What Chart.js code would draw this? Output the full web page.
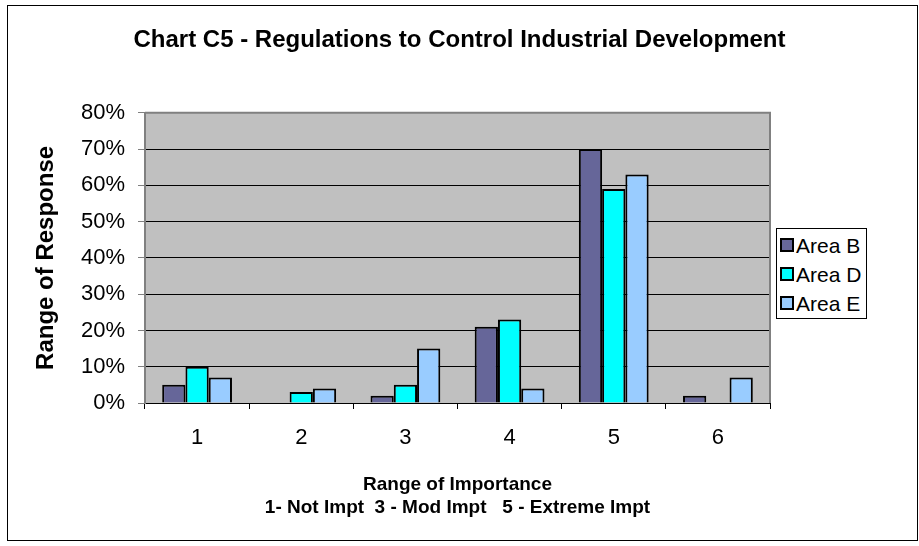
<!DOCTYPE html>
<html>
<head>
<meta charset="utf-8">
<script src="https://cdn.jsdelivr.net/npm/chart.js@4"></script>
<style>
  html, body { margin: 0; padding: 0; background: #fff; }
  #wrap { position: relative; width: 919px; height: 546px; }
  #legend {
    position: absolute; left: 776px; top: 228px; width: 89px; height: 89px;
    border: 1px solid #000; background: #fff;
    font-family: "Liberation Sans", Arial, sans-serif; font-size: 21px; color: #000;
  }
  #legend .item { position: absolute; left: 3px; height: 24px; line-height: 24px; white-space: nowrap; }
  #legend .box {
    display: inline-block; width: 10px; height: 10px; border: 2px solid #000;
    vertical-align: middle; margin-right: 2px; position: relative; top: -2px;
  }
</style>
</head>
<body>
<div id="wrap">
  <canvas id="chart" width="919" height="546"></canvas>
  <div id="legend"></div>
</div>
<script>
const categories = ["1", "2", "3", "4", "5", "6"];
const areaB = [5, 0, 2, 21, 70, 2];
const areaD = [10, 3, 5, 23, 59, 0];
const areaE = [7, 4, 15, 4, 63, 7];
const seriesNames = ["Area B", "Area D", "Area E"];
const seriesColors = ["#666699", "#00ffff", "#99ccff"];

const FONT = "'Liberation Sans', Arial, sans-serif";

// grey plot background + frame, outer chart border
const frame = {
  id: "frame",
  beforeDraw(chart) {
    const { ctx, chartArea: a } = chart;
    ctx.save();
    ctx.fillStyle = "#c0c0c0";
    ctx.fillRect(a.left, a.top, a.right - a.left, a.bottom - a.top);
    ctx.restore();
  },
  afterDraw(chart) {
    const { ctx, chartArea: a } = chart;
    ctx.save();
    ctx.strokeStyle = "#808080";
    ctx.lineWidth = 2;
    ctx.beginPath();
    ctx.moveTo(a.left, a.top);
    ctx.lineTo(a.right, a.top);
    ctx.lineTo(a.right, a.bottom);
    ctx.stroke();
    ctx.strokeStyle = "#000";
    ctx.lineWidth = 1;
    ctx.strokeRect(7.5, 5.5, 910, 535);
    ctx.restore();
  },
};

const values = [areaB, areaD, areaE];

new Chart(document.getElementById("chart"), {
  type: "bar",
  data: {
    labels: categories,
    datasets: seriesNames.map((name, i) => ({
      label: name,
      data: values[i].map((v) => v / 100), // percent -> fraction
      backgroundColor: seriesColors[i],
      borderColor: "#000",
      borderWidth: 2,
      borderSkipped: "start",
      categoryPercentage: 0.67,
      barPercentage: 1.0,
    })),
  },
  options: {
    responsive: false,
    animation: false,
    layout: { padding: 0 },
    plugins: {
      legend: { display: false },
      tooltip: { enabled: false },
      title: {
        display: true,
        text: "Chart C5 - Regulations to Control Industrial Development",
        color: "#000",
        font: { family: FONT, size: 24, weight: "bold", lineHeight: 1.2 },
        padding: { top: 26, bottom: 58 },
        fullSize: true,
      },
    },
    scales: {
      x: {
        grid: { display: true, drawOnChartArea: false, drawTicks: true, tickLength: 6, color: "#000", offset: true },
        border: { color: "#000", width: 1 },
        ticks: { color: "#000", font: { family: FONT, size: 22 }, padding: 16 },
        title: {
          display: true,
          text: ["Range of Importance", "1- Not Impt  3 - Mod Impt   5 - Extreme Impt"],
          color: "#000",
          font: { family: FONT, size: 19, weight: "bold", lineHeight: 1.2 },
          padding: { top: 0, bottom: 27 },
        },
        afterFit(scale) { scale.height = 143; },
      },
      y: {
        min: 0,
        max: 0.8,
        grid: { color: "#000", lineWidth: 1, tickColor: "#808080", tickLength: 7 },
        border: { color: "#808080", width: 2 },
        ticks: {
          stepSize: 0.1,
          color: "#000",
          padding: 13,
          font: { family: FONT, size: 22 },
          callback: (v) => Math.round(v * 100) + "%",
        },
        title: {
          display: true,
          text: "Range of Response",
          color: "#000",
          font: { family: FONT, size: 24, weight: "bold", lineHeight: 1.2 },
          padding: { top: 32, bottom: 0 },
        },
        afterFit(scale) { scale.width = 145; },
      },
      // empty right-hand axis: keeps room for the legend so the title stays centred on the page
      legendSpace: {
        type: "linear",
        position: "right",
        display: true,
        grid: { display: false },
        border: { display: false },
        ticks: { display: false },
        afterFit(scale) { scale.width = 149; },
      },
    },
  },
  plugins: [frame],
});

const legend = document.getElementById("legend");
seriesNames.forEach((name, i) => {
  const item = document.createElement("div");
  item.className = "item";
  item.style.top = 5 + i * 29 + "px";
  item.innerHTML = '<span class="box" style="background:' + seriesColors[i] + '"></span>' + name;
  legend.appendChild(item);
});
</script>
</body>
</html>
